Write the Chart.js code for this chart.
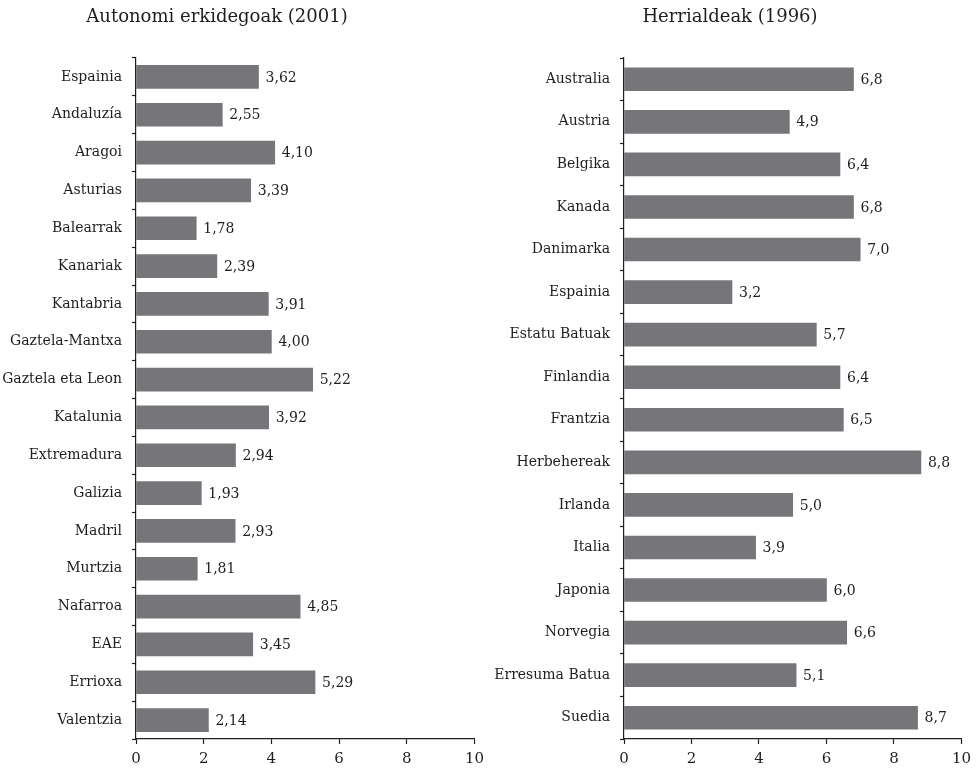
<!DOCTYPE html>
<html>
<head>
<meta charset="utf-8">
<script src="https://cdn.jsdelivr.net/npm/chart.js@4/dist/chart.umd.min.js"></script>
<style>
  html, body { margin: 0; padding: 0; background: #fff; overflow: hidden; }
  #page { position: relative; width: 977px; height: 772px; }
  .panel { position: absolute; top: 0; height: 772px; }
  .title {
    position: absolute; top: 5px; white-space: nowrap;
    font-family: "DejaVu Serif", serif; font-size: 18px; color: #1e1e1e;
    transform: translateX(-50%);
  }
</style>
</head>
<body>
<div id="page">
  <div class="panel" style="left:0;width:490px"><canvas id="regionsChart" width="490" height="772"></canvas></div>
  <div class="panel" style="left:490px;width:487px"><canvas id="countriesChart" width="487" height="772"></canvas></div>
  <div class="title" style="left:217px">Autonomi erkidegoak (2001)</div>
  <div class="title" style="left:730px">Herrialdeak (1996)</div>
</div>
<script>
const regionLabels = ['Espainia', 'Andaluzía', 'Aragoi', 'Asturias', 'Balearrak', 'Kanariak', 'Kantabria',
  'Gaztela-Mantxa', 'Gaztela eta Leon', 'Katalunia', 'Extremadura', 'Galizia', 'Madril', 'Murtzia',
  'Nafarroa', 'EAE', 'Errioxa', 'Valentzia'];
const regionValues = [3.62, 2.55, 4.10, 3.39, 1.78, 2.39, 3.91, 4.00, 5.22, 3.92, 2.94, 1.93, 2.93, 1.81,
  4.85, 3.45, 5.29, 2.14];

const countryLabels = ['Australia', 'Austria', 'Belgika', 'Kanada', 'Danimarka', 'Espainia', 'Estatu Batuak',
  'Finlandia', 'Frantzia', 'Herbehereak', 'Irlanda', 'Italia', 'Japonia', 'Norvegia', 'Erresuma Batua', 'Suedia'];
const countryValues = [6.8, 4.9, 6.4, 6.8, 7.0, 3.2, 5.7, 6.4, 6.5, 8.8, 5.0, 3.9, 6.0, 6.6, 5.1, 8.7];

const xTicks = [0, 2, 4, 6, 8, 10];

const textColor = '#1e1e1e';
const barColor = '#76767a';
const fontFamily = '"DejaVu Serif", serif';

// value labels at the end of each bar, with decimal comma
const valueLabels = {
  id: 'valueLabels',
  afterDatasetsDraw(chart, args, opts) {
    const ctx = chart.ctx;
    const meta = chart.getDatasetMeta(0);
    const values = chart.data.datasets[0].data;
    ctx.save();
    ctx.font = '14px ' + fontFamily;
    ctx.fillStyle = textColor;
    ctx.textBaseline = 'middle';
    ctx.textAlign = 'left';
    meta.data.forEach(function(bar, i) {
      const txt = values[i].toFixed(opts.decimals).replace('.', ',');
      ctx.fillText(txt, bar.x + 7, bar.y + 1);
    });
    ctx.restore();
  }
};

function makeChart(canvasId, labels, values, decimals, axisWidth, rightPad) {
  const ctx = document.getElementById(canvasId).getContext('2d');
  return new Chart(ctx, {
    type: 'bar',
    data: {
      labels: labels,
      datasets: [{
        data: values,
        backgroundColor: barColor,
        borderWidth: 0,
        barThickness: 23
      }]
    },
    options: {
      indexAxis: 'y',
      responsive: false,
      animation: false,
      layout: { padding: { top: 58, right: rightPad, bottom: 0, left: 0 } },
      plugins: {
        legend: { display: false },
        tooltip: { enabled: false },
        valueLabels: { decimals: decimals }
      },
      scales: {
        x: {
          min: 0,
          max: 10,
          afterBuildTicks: function(scale) {
            scale.ticks = xTicks.map(function(v) { return { value: v }; });
          },
          afterFit: function(scale) { scale.height = 33; },
          border: { color: textColor, width: 1.2 },
          grid: { drawOnChartArea: false, tickLength: 5, color: textColor, tickWidth: 1.2 },
          ticks: {
            color: textColor,
            padding: 6,
            font: { family: fontFamily, size: 15 }
          }
        },
        y: {
          afterFit: function(scale) { scale.width = axisWidth; },
          border: { color: textColor, width: 1.2 },
          grid: { drawOnChartArea: false, offset: true, tickLength: 4, color: textColor, tickWidth: 1.2 },
          ticks: {
            color: textColor,
            padding: 10,
            font: { family: fontFamily, size: 14 }
          }
        }
      }
    },
    plugins: [valueLabels]
  });
}

document.addEventListener('DOMContentLoaded', function() {
  makeChart('regionsChart', regionLabels, regionValues, 2, 136, 14);
  makeChart('countriesChart', countryLabels, countryValues, 1, 134, 13);
});
</script>
</body>
</html>
